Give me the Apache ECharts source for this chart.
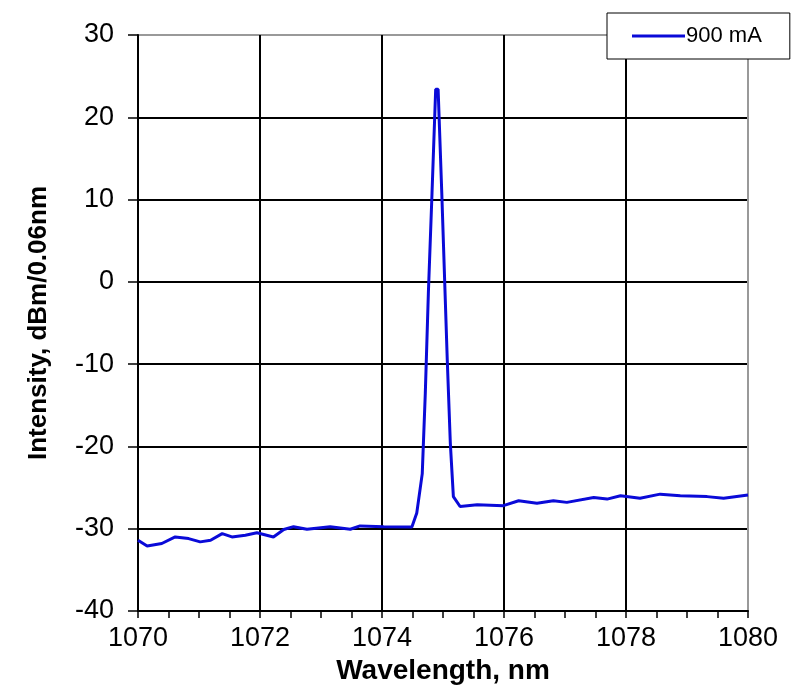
<!DOCTYPE html>
<html>
<head>
<meta charset="utf-8">
<script src="https://cdn.jsdelivr.net/npm/echarts@6/dist/echarts.min.js"></script>
<style>
html,body{margin:0;padding:0;background:#fff;}
#chart{width:800px;height:700px;}
</style>
</head>
<body>
<div id="chart"></div>
<script>
const seriesName = '900 mA';
const wavelength = [1070.0, 1070.15, 1070.39, 1070.61, 1070.83, 1071.02, 1071.19, 1071.38, 1071.54, 1071.76, 1071.95, 1072.22, 1072.39, 1072.55, 1072.77, 1073.15, 1073.48, 1073.64, 1074.03, 1074.49, 1074.57, 1074.66, 1074.71, 1074.76, 1074.82, 1074.88, 1074.92, 1074.98, 1075.07, 1075.12, 1075.17, 1075.28, 1075.56, 1075.99, 1076.24, 1076.54, 1076.81, 1077.03, 1077.47, 1077.69, 1077.91, 1078.23, 1078.56, 1078.89, 1079.33, 1079.6, 1080.0];
const intensity = [-31.4, -32.1, -31.8, -31.0, -31.2, -31.6, -31.4, -30.6, -31.0, -30.8, -30.5, -31.0, -30.1, -29.75, -30.06, -29.75, -30.06, -29.66, -29.75, -29.8, -28.1, -23.3, -13.5, -1.4, 10.8, 23.4, 23.4, 10.8, -9.5, -19.6, -26.1, -27.3, -27.1, -27.2, -26.6, -26.9, -26.6, -26.8, -26.2, -26.4, -26.0, -26.3, -25.8, -26.0, -26.1, -26.3, -25.9];
const xTitle = 'Wavelength, nm';
const yTitle = 'Intensity, dBm/0.06nm';

const points = wavelength.map((w, i) => [w, intensity[i]]);
const FONT = "'Liberation Sans', Arial, sans-serif";

const chart = echarts.init(document.getElementById('chart'), null, {renderer: 'canvas'});
chart.setOption({
  backgroundColor: '#fff',
  animation: false,
  grid: {left: 138, right: 52, top: 35, bottom: 89, containLabel: false},
  legend: {
    data: [seriesName],
    left: 607, top: 13,
    padding: [12, 28, 12, 25],
    backgroundColor: '#fff',
    borderColor: '#000',
    borderWidth: 1,
    borderRadius: 0,
    icon: 'rect',
    itemWidth: 53,
    itemHeight: 3,
    itemGap: 0,
    textStyle: {fontFamily: FONT, fontSize: 22, color: '#000', padding: [0,0,0,-4]}
  },
  xAxis: {
    type: 'value', min: 1070, max: 1080, interval: 2,
    name: xTitle, nameLocation: 'middle', nameGap: 45,
    nameTextStyle: {fontFamily: FONT, fontSize: 28, fontWeight: 'bold', color: '#000'},
    axisLine: {show: true, onZero: false, lineStyle: {color: '#000', width: 2}},
    axisTick: {show: true, inside: false, length: 7, lineStyle: {color: '#000', width: 1.5}},
    minorTick: {show: true, splitNumber: 4, length: 7, lineStyle: {color: '#000', width: 1.5}},
    axisLabel: {fontFamily: FONT, fontSize: 27, color: '#000', margin: 14, formatter: v => String(v)},
    splitLine: {show: true, lineStyle: {color: ['#000','#000','#000','#000','#000','#999'], width: 2}}
  },
  yAxis: {
    type: 'value', min: -40, max: 30, interval: 10,
    name: yTitle, nameLocation: 'middle', nameGap: 86, nameRotate: 90,
    nameTextStyle: {fontFamily: FONT, fontSize: 26, fontWeight: 'bold', color: '#000'},
    axisLine: {show: true, onZero: false, lineStyle: {color: '#000', width: 2}},
    axisTick: {show: true, inside: false, length: 10, lineStyle: {color: '#000', width: 1.5}},
    axisLabel: {fontFamily: FONT, fontSize: 27, color: '#000', margin: 24},
    splitLine: {show: true, lineStyle: {color: ['#000','#000','#000','#000','#000','#000','#000','#999'], width: 2}}
  },
  series: [{
    name: seriesName,
    type: 'line',
    data: points,
    showSymbol: false,
    symbol: 'none',
    smooth: false,
    lineStyle: {color: '#0a0ad8', width: 3},
    itemStyle: {color: '#0a0ad8'}
  }]
});
</script>
</body>
</html>
